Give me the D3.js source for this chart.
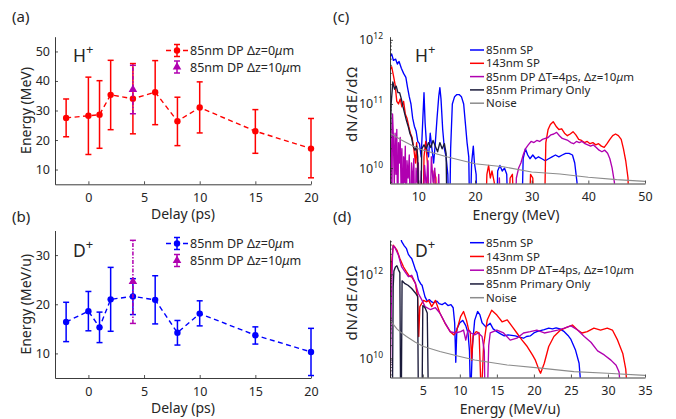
<!DOCTYPE html>
<html>
<head>
<meta charset="utf-8">
<script src="https://cdn.jsdelivr.net/npm/d3@7"></script>
<style>
  body { margin: 0; background: #fff; }
  svg text { font-family: "Noto Sans", "Open Sans", sans-serif; fill: #262626; }
</style>
</head>
<body>
<div id="chart"></div>
<script>
// ---- data: peak energy vs delay ----
const delays = [-2, 0, 1, 2, 4, 6, 8, 10, 15, 20];

const hMean = [27.5, 28.2, 28.6, 35.3, 34.0, 36.2, 26.4, 31.0, 23.0, 17.1];
const hLow  = [21.1, 15.1, 17.2, 23.5, 22.1, 25.2, 18.1, 22.4, 15.5, 7.2];
const hHigh = [33.9, 41.3, 40.1, 47.0, 45.9, 46.9, 34.5, 39.7, 30.3, 27.3];
const hDzDelay = [4], hDzMean = [37.1], hDzLow = [28.9], hDzHigh = [45.3];

const dMean = [16.4, 18.6, 15.3, 21.0, 21.6, 20.9, 14.2, 18.1, 13.7, 10.3];
const dLow  = [12.4, 14.6, 12.2, 14.5, 17.9, 16.0, 11.7, 15.6, 11.9, 5.5];
const dHigh = [20.4, 22.6, 18.4, 27.5, 25.2, 25.8, 16.7, 20.7, 15.4, 15.1];
const dDzDelay = [4], dDzMean = [24.6], dDzLow = [16.1], dDzHigh = [33.0];

const errLegend = ["85nm DP \u0394z=0\u03bcm", "85nm DP \u0394z=10\u03bcm"];

// ---- data: spectra [energy, dN/dE/dOmega] ----
const specLegend = ["85nm SP", "143nm SP", "85nm DP \u0394T=4ps, \u0394z=10\u03bcm", "85nm Primary Only", "Noise"];
const specColors = ["#0000ff", "#ff0000", "#b000b0", "#1a1a3a", "#8c8c8c"];

const hSP85 = [[5.0,5.5e11],[5.3,6.0e11],[5.6,4.8e11],[6.0,5.0e11],[6.3,4.2e11],[6.6,4.6e11],[7.0,3.6e11],[7.4,3.0e11],
  [7.8,2.6e11],[8.1,1.8e11],[8.4,1.3e11],[8.7,1.0e11],[9.0,6e10],[9.3,4.5e10],[9.6,3.8e10],[9.9,2.6e10],[10.2,2.4e10],
  [10.5,1.5e10],[10.8,6e10],[11.0,1.5e11],[11.2,5e10],[11.5,2.0e10],[11.8,1.5e10],[12.1,3.5e10],[12.4,2.0e10],
  [12.7,1.2e10],[13.0,2.5e10],[13.3,6e10],[13.6,1.3e11],[13.8,1.8e11],[14.0,1.2e11],[14.3,4e10],[14.6,2e10],
  [14.9,1.5e10],[15.2,8e9],[15.5,1e9],[15.7,2e10],[16.0,1.0e11],[16.4,1.3e11],[16.8,1.4e11],[17.2,1.4e11],
  [17.6,1.3e11],[18.0,1.0e11],[18.3,5e10],[18.6,2.5e10],[18.9,1.5e10],[19.1,1e9],[19.4,1.2e10],[19.7,2.2e10],
  [19.9,1.2e10],[20.2,8e9],[20.4,1e9],[23.8,1e9],[24.0,9e9],[24.4,1.1e10],[24.8,9e9],[25.2,1.0e10],[25.6,8e9],
  [25.9,1e9],[28.2,1e9],[28.5,1.4e10],[28.9,2.0e10],[29.3,1.6e10],[29.7,1.4e10],[30.2,1.6e10],[30.7,1.4e10],
  [31.2,1.5e10],[31.8,1.4e10],[32.4,1.3e10],[33.0,1.4e10],[33.6,1.5e10],[34.2,1.6e10],[34.8,1.5e10],[35.4,1.6e10],
  [36.0,1.7e10],[36.6,1.7e10],[37.2,1.6e10],[37.6,1.2e10],[38.0,6e9],[38.3,1e9]];

const hSP143 = [[5.0,3.4e11],[5.3,3.8e11],[5.6,2.8e11],[5.9,2.0e11],[6.2,1.1e11],[6.5,1.0e11],[6.8,1.2e11],[7.1,9e10],
  [7.4,1.1e11],[7.7,7e10],[8.0,6e10],[8.3,4.5e10],[8.6,3.5e10],[8.9,3e10],[9.2,2.0e10],[9.5,1.2e10],[9.7,2.5e10],
  [9.9,8e9],[10.1,1e9],[10.8,1e9],[11.0,1.5e10],[11.3,2.6e10],[11.6,1.2e10],[11.9,1e9],[12.5,1e9],[12.8,9e9],
  [13.1,7e9],[13.3,1e9],[21.8,1e9],[22.1,8e9],[22.4,1.1e10],[22.7,7e9],[23.0,9e9],[23.4,6e9],[23.7,1e9],[25.8,1e9],
  [26.2,7e9],[26.6,8e9],[27.0,1e9],[29.5,1e9],[29.8,8e9],[30.2,7e9],[30.5,1e9],[32.2,1e9],[32.5,2.5e10],[32.9,4e10],
  [33.3,4.8e10],[33.8,5.3e10],[34.3,4.5e10],[34.8,4.0e10],[35.3,4.1e10],[35.8,3.5e10],[36.3,3.2e10],[36.8,3.4e10],
  [37.3,3.7e10],[37.8,3.3e10],[38.3,2.8e10],[38.8,2.7e10],[39.3,2.5e10],[39.8,2.6e10],[40.3,2.4e10],[40.8,2.5e10],
  [41.3,2.3e10],[41.8,2.4e10],[42.3,2.2e10],[42.8,2.1e10],[43.3,2.4e10],[43.8,2.8e10],[44.3,3.2e10],[44.8,3.4e10],
  [45.3,3.2e10],[45.8,2.8e10],[46.2,2.0e10],[46.6,1.3e10],[47.0,7e9],[47.3,1e9]];

const hDP85 = [[5.0,1.0e11],[5.15,4e10],[5.3,1e9],[5.45,7e10],[5.6,3e10],[5.75,5e9],[5.9,3.5e10],[6.05,8e9],[6.2,4e10],
  [6.35,1e9],[6.5,2.5e10],[6.65,1.2e10],[6.8,3e10],[6.95,5e9],[7.1,2e10],[7.25,1e9],[7.4,1.5e10],[7.55,6e9],[7.7,2.2e10],
  [7.85,1e9],[8.0,1.3e10],[8.2,7e9],[8.4,1.6e10],[8.6,1e9],[8.8,1.2e10],[9.0,5e9],[9.2,1.4e10],[9.4,1e9],[9.6,1.0e10],
  [9.8,6e9],[10.0,1.2e10],[10.2,1e9],[10.5,9e9],[10.8,1e9],[11.1,1.1e10],[11.4,5e9],[11.7,1.3e10],[12.0,1e9],
  [12.3,1.5e10],[12.6,6e9],[12.9,1.0e10],[13.2,1e9],[13.6,8e9],[13.9,1e9],[24.0,1e9],[24.3,7e9],[24.6,1e9],[27.0,1e9],
  [27.3,7e9],[27.7,1.0e10],[28.1,1.2e10],[28.5,1.6e10],[28.9,2.0e10],[29.4,2.3e10],[29.9,2.6e10],[30.4,2.5e10],
  [30.9,2.7e10],[31.4,2.6e10],[31.9,2.8e10],[32.4,2.9e10],[32.9,3.0e10],[33.4,3.3e10],[33.9,3.4e10],[34.4,3.6e10],
  [34.9,3.2e10],[35.4,2.9e10],[35.9,2.8e10],[36.4,2.7e10],[36.9,2.5e10],[37.4,2.4e10],[37.9,2.6e10],[38.4,2.5e10],
  [38.9,2.6e10],[39.4,2.4e10],[39.9,2.3e10],[40.4,2.2e10],[40.9,2.3e10],[41.4,2.1e10],[41.9,1.9e10],[42.4,1.8e10],
  [42.9,1.9e10],[43.4,1.7e10],[43.8,1.4e10],[44.2,1.0e10],[44.6,6e9],[44.9,1e9]];

const hPrim85 = [[5.0,1.5e10],[5.2,1.0e11],[5.5,2.2e11],[5.8,1.7e11],[6.1,1.9e11],[6.4,1.5e11],[6.7,1.5e11],[7.0,1.2e11],
  [7.3,9e10],[7.6,7e10],[7.9,5.5e10],[8.2,4.5e10],[8.5,3.5e10],[8.8,3.0e10],[9.1,2.2e10],[9.4,1.9e10],[9.7,2.2e10],
  [9.9,1.5e10],[10.1,1e9],[10.4,1e9],[10.6,2.0e10],[11.0,2.3e10],[11.4,2.0e10],[11.8,2.5e10],[12.2,2.1e10],
  [12.6,2.7e10],[13.0,2.2e10],[13.4,1.8e10],[13.8,2.5e10],[14.2,2.0e10],[14.6,2.4e10],[14.9,1.7e10],[15.1,1e9]];

const hNoise = [[5,3.5e10],[7,2.75e10],[10,2.0e10],[15,1.5e10],[20,1.17e10],[25,1.05e10],[30,8.7e9],[35,8.1e9],
  [40,7.2e9],[45,6.6e9],[50,6.2e9]];

const dSP85 = [[1.6,2e13],[1.8,1.1e13],[2.15,6e12],[2.5,4.8e12],[2.8,4.1e12],[3.05,3.0e12],[3.3,2.6e12],[3.5,2.4e12],
  [3.7,1.9e12],[4.0,1.3e12],[4.2,1.1e12],[4.4,7.5e11],[4.7,6.0e11],[4.9,5.5e11],[5.1,4.0e11],[5.3,2.9e11],[5.6,2.3e11],
  [5.9,2.5e11],[6.2,2.2e11],[6.5,2.1e11],[6.9,2.3e11],[7.2,2.0e11],[7.6,1.9e11],[8.0,2.1e11],[8.4,1.8e11],[8.8,1.9e11],
  [9.1,1.6e11],[9.3,7e10],[9.45,8e9],[9.6,5e10],[10.0,7e10],[10.4,8e10],[10.8,6e10],[11.1,4e10],[11.3,1.5e10],
  [11.45,1e9],[11.7,2e10],[12.0,8e10],[12.4,1.3e11],[12.7,1.1e11],[13.0,7e10],[13.5,5.6e10],[14.1,6.8e10],[14.5,5e10],
  [15.0,4.3e10],[15.5,3.8e10],[16.0,3.4e10],[16.5,3.6e10],[17.0,3.5e10],[17.5,3.4e10],[18.0,3.2e10],[18.6,3.0e10],
  [19.0,3.3e10],[19.5,3.4e10],[20.0,4.0e10],[20.4,4.3e10],[21.0,4.6e10],[21.4,4.8e10],[22.0,5.2e10],[22.5,5.0e10],
  [23.0,5.3e10],[23.5,5.0e10],[24.1,4.3e10],[24.6,3.5e10],[25.0,2.8e10],[25.6,1.6e10],[26.1,7.6e9],[26.5,1e9]];

const dSP143 = [[0.57,3e11],[0.8,2.0e12],[1.0,5e12],[1.2,4.5e12],[1.5,3.8e12],[1.9,2.4e12],[2.4,1.5e12],[2.8,1.15e12],
  [3.2,9e11],[3.5,8.7e11],[4.0,6.1e11],[4.3,2.9e11],[4.45,3.3e10],[4.6,1.7e11],[5.1,2.4e11],[5.5,2.2e11],[5.8,2.4e11],
  [6.2,1.7e11],[6.7,2.4e11],[7.3,1.2e11],[8.0,6.8e10],[8.7,4.3e10],[9.2,3.6e10],[9.6,4.7e10],[10.1,9.8e10],[10.5,1.3e11],
  [10.9,8e10],[11.2,4.7e10],[11.4,4.3e10],[11.6,9e9],[11.8,3.5e10],[12.2,4.3e10],[12.6,4.0e10],[12.9,1e9],[13.2,2e10],
  [13.7,8.2e10],[14.3,1.4e11],[15.0,1.07e11],[15.7,7.4e10],[16.4,8.2e10],[17.1,5.6e10],[17.7,4e10],[18.4,2.7e10],
  [19.1,1.9e10],[19.8,1.2e10],[20.2,9e9],[20.7,5.2e9],[20.9,4.4e9],[21.4,7.6e9],[22.0,1.9e10],[22.7,3.3e10],
  [23.6,4.7e10],[24.5,5.5e10],[25.2,6.2e10],[25.9,4.7e10],[26.5,4.0e10],[27.2,4.3e10],[28.1,5.2e10],[29.0,4.7e10],
  [29.9,5.2e10],[30.6,4.7e10],[31.3,2.7e10],[32.0,1.3e10],[32.4,5.5e9],[32.7,1e9]];

const dDP85 = [[0.57,1e9],[0.75,2e11],[0.9,2.5e12],[1.0,4.8e12],[1.25,4.3e12],[1.7,2.9e12],[2.15,1.5e12],[2.6,1.15e12],
  [3.05,8.8e11],[3.5,9.5e11],[4.0,6.1e11],[4.4,3.5e11],[4.9,2.4e11],[5.3,1.7e11],[6.0,1.45e11],[6.7,1.6e11],[7.3,1.2e11],
  [8.0,7e10],[8.7,4.3e10],[9.4,4e10],[10.1,4.3e10],[10.5,4.7e10],[10.8,2.7e10],[11.1,4.7e10],[11.5,4e10],[12.0,3.6e10],
  [12.5,4e10],[13.0,3.3e10],[13.3,1.5e10],[13.4,1e9],[13.7,1e9],[13.9,2e10],[14.1,4e10],[15.0,4.7e10],[15.9,4e10],
  [16.8,2.7e10],[17.7,3e10],[18.6,4e10],[19.5,4.3e10],[20.4,4.7e10],[21.4,4e10],[22.3,4.3e10],[23.2,4.7e10],
  [24.1,5.2e10],[25.0,5.9e10],[25.9,4.7e10],[26.8,3.3e10],[27.7,2.4e10],[28.6,1.5e10],[29.5,1.2e10],[30.4,9e9],
  [31.1,6.8e9],[31.5,4.7e9],[31.8,1e9]];

const dPrim85 = [[0.9,1e9],[1.0,5e11],[1.1,1.2e12],[1.3,1.5e12],[1.5,1.6e12],[1.7,1.3e12],[1.9,1.1e12],[2.0,1e9],
  [2.1,1e9],[2.2,7e11],[2.6,6e11],[3.0,5.5e11],[3.5,4.6e11],[4.0,3.6e11],[4.3,3.0e11],[4.4,1e9],[4.9,1e9],[5.0,1.8e11],
  [5.3,1.6e11],[5.6,1.2e11],[5.75,1e9]];

const dNoise = [[0.57,8e10],[1,6.5e10],[1.5,5e10],[2,4.2e10],[2.8,3.3e10],[4,2.4e10],[5.1,1.9e10],[7.3,1.45e10],
  [10,1.1e10],[12,9.1e9],[16.4,6.9e9],[20.9,5.8e9],[25.4,4.8e9],[29.9,4.4e9],[35,3.9e9]];

// ---- drawing ----
const W = 676, H = 419;
const svg = d3.select("#chart").append("svg").attr("width", W).attr("height", H);
const axisColor = "#262626";

// text with italic mu
function richText(sel, str) {
   str.split(/(\u03bc)/).forEach(function (part) {
      if (!part) return;
      const t = sel.append("tspan").text(part);
      if (part === "\u03bc") t.attr("font-style", "italic");
   });
}

function ionLabel(x, y, base) {
   const t = svg.append("text").attr("x", x).attr("y", y).attr("font-size", 17.5);
   t.append("tspan").text(base);
   t.append("tspan").attr("dy", -8).attr("font-size", 13).text("+");
}

function styleAxis(g) {
   g.select(".domain").attr("stroke", axisColor).attr("stroke-width", 0.9);
   g.selectAll(".tick line").attr("stroke", axisColor).attr("stroke-width", 0.8);
   g.selectAll(".tick text").attr("font-size", 12.5).attr("fill", axisColor);
}

function errBar(g, x, yLow, yHigh, color, dash) {
   g.append("line").attr("x1", x).attr("x2", x).attr("y1", yLow).attr("y2", yHigh)
      .attr("stroke", color).attr("stroke-width", 1.5).attr("stroke-dasharray", dash || null);
   [yLow, yHigh].forEach(function (yy) {
      g.append("line").attr("x1", x - 3).attr("x2", x + 3).attr("y1", yy).attr("y2", yy)
         .attr("stroke", color).attr("stroke-width", 1.5);
   });
}

const triangle = d3.symbol().type(d3.symbolTriangle).size(32);

function drawErrPanel(o) {
   const x = d3.scaleLinear().domain([-3, 20]).range([55, 311]);
   const y = d3.scaleLinear().domain(o.yDomain).range([o.bottom, o.top]);

   svg.append("g").attr("transform", "translate(0," + o.bottom + ")")
      .call(d3.axisBottom(x).tickValues([0, 5, 10, 15, 20]).tickSize(-3).tickSizeOuter(0).tickPadding(9))
      .call(styleAxis);
   svg.append("g").attr("transform", "translate(55,0)")
      .call(d3.axisLeft(y).tickValues(o.yTicks).tickSize(-3).tickSizeOuter(0).tickPadding(5))
      .call(styleAxis);

   const g = svg.append("g");
   // main series: dashed line, error bars, circles
   const pts = delays.map((d, i) => ({ x: d, m: o.mean[i], lo: o.low[i], hi: o.high[i] }));
   g.append("path").datum(pts)
      .attr("d", d3.line().x(d => x(d.x)).y(d => y(d.m)))
      .attr("fill", "none").attr("stroke", o.color).attr("stroke-width", 1.4)
      .attr("stroke-dasharray", "5,3.5");
   pts.forEach(function (d) { errBar(g, x(d.x), y(d.lo), y(d.hi), o.color); });
   g.selectAll("circle.pt").data(pts).enter().append("circle")
      .attr("cx", d => x(d.x)).attr("cy", d => y(d.m)).attr("r", 3.2).attr("fill", o.color);

   // dz = 10um point
   const purple = "#b000b0";
   o.dzDelay.forEach(function (d, i) {
      errBar(g, x(d), y(o.dzLow[i]), y(o.dzHigh[i]), purple, "4,1.5,1.5,1.5");
      g.append("path").attr("d", triangle).attr("fill", purple)
         .attr("transform", "translate(" + x(d) + "," + y(o.dzMean[i]) + ")");
   });

   // legend
   const lg = svg.append("g");
   lg.append("line").attr("x1", 166).attr("x2", 188).attr("y1", o.legY[0]).attr("y2", o.legY[0])
      .attr("stroke", o.color).attr("stroke-width", 1.4).attr("stroke-dasharray", "5,3.5");
   errBar(lg, 177, o.legY[0] - 6, o.legY[0] + 6, o.color);
   lg.append("circle").attr("cx", 177).attr("cy", o.legY[0]).attr("r", 3.2).attr("fill", o.color);
   errBar(lg, 177, o.legY[1] - 6, o.legY[1] + 6, purple);
   lg.append("path").attr("d", triangle).attr("fill", purple)
      .attr("transform", "translate(177," + o.legY[1] + ")");
   errLegend.forEach(function (s, i) {
      const t = lg.append("text").attr("x", 190).attr("y", o.legY[i]).attr("dy", "0.36em").attr("font-size", 12.5);
      richText(t, s);
   });

   // axis titles
   svg.append("text").attr("x", 183).attr("y", o.bottom + 35).attr("text-anchor", "middle")
      .attr("font-size", 14).text("Delay (ps)");
   svg.append("text").attr("transform", "translate(31," + ((o.top + o.bottom) / 2) + ") rotate(-90)")
      .attr("text-anchor", "middle").attr("font-size", 14).text(o.yTitle);
}

function drawSpecPanel(o) {
   const x = d3.scaleLinear().domain(o.xDomain).range([390, 645]);
   const y = d3.scaleLog().domain(o.yDomain).range([o.bottom, o.top]);

   const clipId = "clip-" + o.name;
   svg.append("clipPath").attr("id", clipId).append("rect")
      .attr("x", 390).attr("y", o.top).attr("width", 255).attr("height", o.bottom - o.top);

   const line = d3.line().x(d => x(d[0])).y(d => y(d[1]));
   const g = svg.append("g").attr("clip-path", "url(#" + clipId + ")");
   o.series.forEach(function (s, i) {
      g.append("path").datum(s)
         .attr("d", line).attr("fill", "none").attr("stroke", specColors[i])
         .attr("stroke-width", i === 4 ? 1.1 : 1.35).attr("stroke-linejoin", "round");
   });

   // axes
   svg.append("g").attr("transform", "translate(0," + o.bottom + ")")
      .call(d3.axisBottom(x).tickValues(o.xTicks).tickSize(-3).tickSizeOuter(0).tickPadding(9))
      .call(styleAxis);
   const ya = svg.append("g").attr("transform", "translate(390,0)")
      .call(d3.axisLeft(y).tickValues(o.yTicks).tickSize(-3).tickSizeOuter(0).tickPadding(7).tickFormat(""))
      .call(styleAxis);
   ya.selectAll(".tick text").each(function (d) {
      const t = d3.select(this);
      t.append("tspan").text("10");
      t.append("tspan").attr("dy", -5).attr("font-size", 8.5).text(Math.round(Math.log10(d)));
   });
   // minor log ticks
   const minors = [];
   for (let e = 9; e <= 12; e++) {
      for (let k = 2; k <= 9; k++) {
         const v = k * Math.pow(10, e);
         if (v > o.yDomain[0] && v < o.yDomain[1]) minors.push(v);
      }
   }
   svg.append("g").selectAll("line").data(minors).enter().append("line")
      .attr("x1", 390).attr("x2", 392).attr("y1", d => y(d)).attr("y2", d => y(d))
      .attr("stroke", axisColor).attr("stroke-width", 0.7);

   // legend
   const lg = svg.append("g");
   specLegend.forEach(function (s, i) {
      const yy = o.legY0 + i * o.legDy;
      lg.append("line").attr("x1", 470).attr("x2", 484).attr("y1", yy).attr("y2", yy)
         .attr("stroke", specColors[i]).attr("stroke-width", 1.5);
      const t = lg.append("text").attr("x", 486).attr("y", yy).attr("dy", "0.36em").attr("font-size", 11.5);
      richText(t, s);
   });

   svg.append("text").attr("x", o.xTitleX).attr("y", o.bottom + 36).attr("text-anchor", "middle")
      .attr("font-size", 14).text(o.xTitle);
   svg.append("text").attr("transform", "translate(357," + ((o.top + o.bottom) / 2 - 6) + ") rotate(-90)")
      .attr("text-anchor", "middle").attr("font-size", 15).attr("letter-spacing", 0.8).text("dN/dE/d\u03a9");
}

drawErrPanel({
   top: 36.7, bottom: 184.3, yDomain: [5, 55], yTicks: [10, 20, 30, 40, 50],
   mean: hMean, low: hLow, high: hHigh, color: "#ff0000",
   dzDelay: hDzDelay, dzMean: hDzMean, dzLow: hDzLow, dzHigh: hDzHigh,
   legY: [50.5, 67], yTitle: "Energy (MeV)"
});
drawErrPanel({
   top: 230.5, bottom: 378, yDomain: [5, 35], yTicks: [10, 20, 30],
   mean: dMean, low: dLow, high: dHigh, color: "#0000ff",
   dzDelay: dDzDelay, dzMean: dDzMean, dzLow: dDzLow, dzHigh: dDzHigh,
   legY: [243.5, 260.5], yTitle: "Energy (MeV/u)"
});
drawSpecPanel({
   name: "c", top: 36.7, bottom: 183.5, xDomain: [5, 50], xTicks: [10, 20, 30, 40, 50],
   yDomain: [5.75e9, 1.12e12], yTicks: [1e10, 1e11, 1e12],
   series: [hSP85, hSP143, hDP85, hPrim85, hNoise],
   legY0: 50, legDy: 13.3, xTitle: "Energy (MeV)", xTitleX: 516
});
drawSpecPanel({
   name: "d", top: 240, bottom: 377.5, xDomain: [0.57, 35], xTicks: [5, 10, 15, 20, 25, 30, 35],
   yDomain: [3.47e9, 6.6e12], yTicks: [1e10, 1e12],
   series: [dSP85, dSP143, dDP85, dPrim85, dNoise],
   legY0: 242.7, legDy: 13.75, xTitle: "Energy (MeV/u)", xTitleX: 510
});

ionLabel(73, 61.7, "H");
ionLabel(73, 256.7, "D");
ionLabel(415, 61.7, "H");
ionLabel(415, 256.7, "D");

[["(a)", 12, 22], ["(b)", 12, 222], ["(c)", 333, 22], ["(d)", 333, 222]].forEach(function (p) {
   svg.append("text").attr("x", p[1]).attr("y", p[2]).attr("font-size", 15).text(p[0]);
});
</script>
</body>
</html>
